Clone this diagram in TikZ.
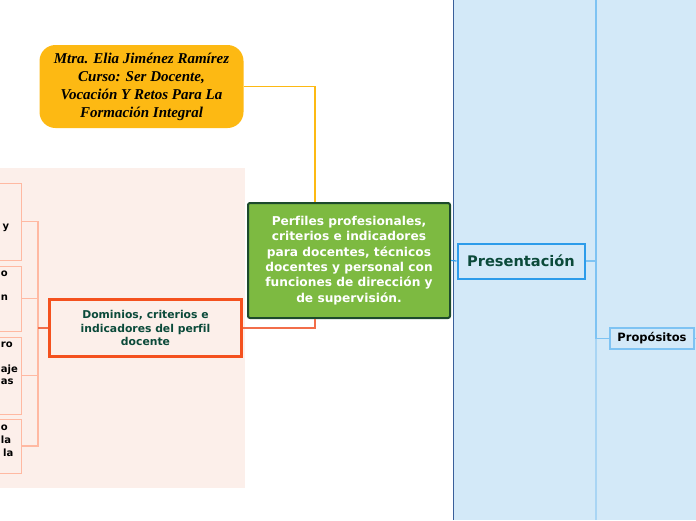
\documentclass[tikz,border=0pt]{standalone}
\usepackage{fontspec}
\setmainfont[Ligatures=NoCommon]{DejaVu Sans}
\newfontfamily\decofont{Liberation Serif}
\definecolor{peach}{HTML}{FCEFEA}
\definecolor{salmon}{HTML}{FFB9A2}
\definecolor{domred}{HTML}{F4511E}
\definecolor{domline}{HTML}{F26E4A}
\definecolor{amber}{HTML}{FDB913}
\definecolor{cgreen}{HTML}{7DBA41}
\definecolor{cborder}{HTML}{1C4A2C}
\definecolor{dkgreen}{HTML}{0B4A3A}
\definecolor{panel}{HTML}{D3E9F8}
\definecolor{panelborder}{HTML}{3A5F9A}
\definecolor{pblue}{HTML}{2D9CEA}
\definecolor{lblue}{HTML}{7EC3F3}
\definecolor{llblue}{HTML}{A9D5F4}
\tikzset{
  leftbox/.style={draw=salmon, line width=1pt, fill=peach, anchor=east, inner sep=0pt},
  frag/.style={anchor=west, inner sep=0pt, font=\bfseries\fontsize{10}{12}\selectfont, text=black},
  brk/.style={draw=salmon, line width=1.2pt},
  central/.style={draw=cborder, fill=cgreen, line width=2pt, rounded corners=2pt, inner sep=0pt,
     minimum width=202pt, minimum height=115pt, align=center, text=white,
     font=\bfseries\fontsize{12.2}{15.3}\selectfont},
  dombox/.style={draw=domred, fill=peach, line width=2.2pt, inner sep=0pt, minimum width=192pt,
     minimum height=57pt, align=center, text=dkgreen, font=\bfseries\fontsize{10.8}{13.5}\selectfont},
  mtrabox/.style={fill=amber, rounded corners=16pt, inner sep=0pt, minimum width=204pt, minimum height=83pt,
     align=center, text=black, font=\decofont\bfseries\itshape\fontsize{15}{18}\selectfont},
  presbox/.style={draw=pblue, fill=panel, line width=2pt, inner sep=0pt, minimum width=127pt, minimum height=35pt,
     text=dkgreen, font=\bfseries\fontsize{14.6}{17}\selectfont},
  propbox/.style={draw=lblue, fill=panel, line width=1.1pt, inner sep=0pt, minimum width=84pt, minimum height=21pt,
     text=black, font=\bfseries\fontsize{11.5}{13}\selectfont},
}
\begin{document}
\begin{tikzpicture}[x=1pt,y=-1pt]
\clip (0,0) rectangle (696,520);
\fill[peach] (0,168) rectangle (245,488);
\fill[panel] (453,0) rectangle (696,520);
\draw[panelborder, line width=1pt] (453,0) -- (453,520);

% left boxes (cut off by the left edge)
\node[leftbox, minimum width=120pt, minimum height=77pt] (d1) at (22,221.5) {};
\node[leftbox, minimum width=120pt, minimum height=65pt] (d2) at (22,298.5) {};
\node[leftbox, minimum width=120pt, minimum height=77pt] (d3) at (22,375.5) {};
\node[leftbox, minimum width=120pt, minimum height=54pt] (d4) at (22,446) {};
\node[frag] (f1) at (2.5,228) {y};
\node[frag] (f2a) at (0.8,274) {o};
\node[frag] (f2b) at (0.8,298) {n};
\node[frag] (f3a) at (0.8,345) {ro};
\node[frag] (f3b) at (0.8,370) {aje};
\node[frag] (f3c) at (0.8,382) {as};
\node[frag] (f4a) at (0.8,428) {o};
\node[frag] (f4b) at (0.8,440) {la};
\node[frag] (f4c) at (3,453) {la};

% main nodes
\node[central] (c) at (349,260.5) {Perfiles profesionales,\\criterios e indicadores\\para docentes, técnicos\\docentes y personal con\\funciones de dirección y\\de supervisión.};
\node[dombox] (dom) at (145.5,328) {Dominios, criterios e\\indicadores del perfil\\docente};
\node[mtrabox] (mtra) at (141.5,86.5) {Mtra. Elia Jiménez Ramírez\\Curso: Ser Docente,\\Vocación Y Retos Para La\\Formación Integral};
\node[presbox] (pres) at (521,261) {Presentación};
\node[propbox] (prop) at (652,338.5) {Propósitos};

% connectors
\coordinate (bus) at (38,328);
\draw[brk] (bus) |- (d1.east);
\draw[brk] (bus) |- (d2.east);
\draw[brk] (bus) |- (d3.east);
\draw[brk] (bus) |- (d4.east);
\draw[draw=domline, line width=2pt] (dom.west) -- (bus);
\draw[draw=domline, line width=2pt] (dom.east) -| (c.south -| 315,0);
\draw[draw=amber, line width=1.5pt] (mtra.east) -| (c.north -| 315,0);
\draw[draw=pblue, line width=1.2pt] (c.east) -- (pres.west);
\coordinate (vtop) at (596,0);
\coordinate (vmid) at (596,338.5);
\coordinate (vbot) at (596,520);
\draw[draw=lblue, line width=1.2pt] (pres.east) -- (pres.east -| vtop);
\draw[draw=lblue, line width=1.2pt] (vtop) -- (vmid) -- (prop.west);
\draw[draw=llblue, line width=1.2pt] (vmid) -- (vbot);
\coordinate (pr) at (696,338.5);
\draw[draw=lblue, line width=1.2pt] (prop.east) -- (pr);
\end{tikzpicture}
\end{document}
